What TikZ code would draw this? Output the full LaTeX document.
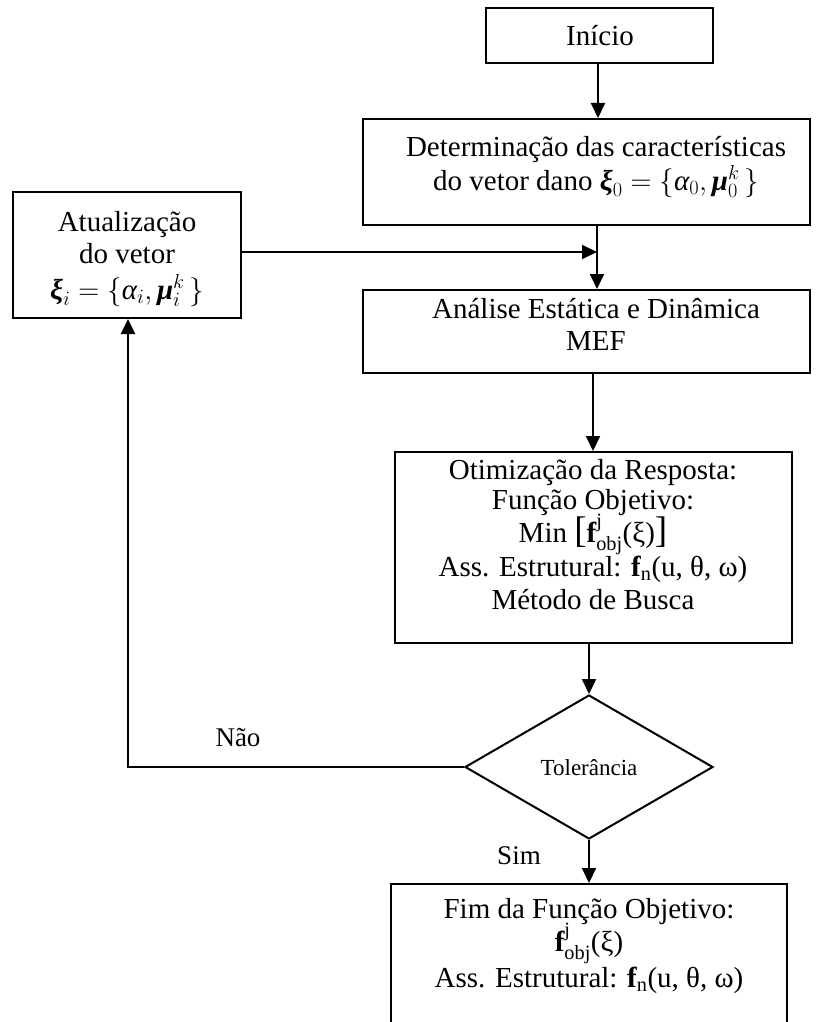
\RequirePackage{fix-cm}
\documentclass[tikz,border=0pt]{standalone}
\usepackage{amsmath}
\usepackage{fontspec}
\setmainfont{Liberation Serif}
\usetikzlibrary{arrows.meta,shapes.geometric}
\newcommand{\bxi}{\text{\bfseries\itshape ξ}}
\newcommand{\bmu}{\text{\bfseries\itshape μ}}
\newcommand{\ial}{\text{\itshape α}}
\newcommand{\bigbr}[1]{{\fontsize{37}{37}\selectfont #1}}
\tikzset{
  boxst/.style={draw=black,line width=2pt,rectangle,inner sep=0pt},
  txt/.style={inner sep=0pt,anchor=base,font=\fontsize{29}{33}\selectfont},
  smalltxt/.style={inner sep=0pt,anchor=base,font=\fontsize{23}{27}\selectfont},
  lbl/.style={inner sep=0pt,anchor=base,font=\fontsize{27}{31}\selectfont},
  arr/.style={line width=2pt,-{Triangle[length=15pt,width=14pt]}}
}
\begin{document}
\begin{tikzpicture}[x=1pt,y=-1pt]
\clip (0,0) rectangle (819,1022);
\fill[white] (0,0) rectangle (819,1022);
% boxes
\node[boxst,minimum width=227pt,minimum height=55pt] (inicio) at (599.5,35.5) {};
\node[boxst,minimum width=447pt,minimum height=106pt] (determ) at (586.5,172) {};
\node[boxst,minimum width=228pt,minimum height=126pt] (atual) at (127,255) {};
\node[boxst,minimum width=447pt,minimum height=83pt] (analise) at (586.5,331.5) {};
\node[boxst,minimum width=397pt,minimum height=191pt] (otim) at (593.5,547.5) {};
\node[draw=black,line width=2pt,diamond,aspect=1.72,minimum width=248pt,minimum height=144pt,inner sep=0pt] (dia) at (589,767) {};
\node[boxst,minimum width=396pt,minimum height=156pt] (fim) at (589,962) {};
% texts
\node[txt] (t1) at (600,46) {Início};
\node[txt] (t2a) at (596,157) {Determinação das características};
\node[txt] (t2b) at (596,190) {do vetor dano $\bxi_0=\{\ial_0,\bmu_0^k\,\}$};
\node[txt] (t3a) at (127,231) {Atualização};
\node[txt] (t3b) at (127,263) {do vetor};
\node[txt] (t3c) at (127,299) {$\bxi_i=\{\ial_i,\bmu_i^k\,\}$};
\node[txt] (t4a) at (596,318) {Análise Estática e Dinâmica};
\node[txt] (t4b) at (596,350) {MEF};
\node[txt] (t5a) at (593,479) {Otimização da Resposta:};
\node[txt] (t5b) at (593,509) {Função Objetivo:};
\node[txt] (t5c) at (593,542) {Min \bigbr{[}$\mathbf{f}^{\mathrm{j}}_{\mathrm{obj}}$(ξ)\bigbr{]}};
\node[txt] (t5d) at (593,576) {Ass. Estrutural: $\mathbf{f}_{\mathrm{n}}$(u, θ, ω)};
\node[txt] (t5e) at (593,609) {Método de Busca};
\node[smalltxt] (t6) at (589,775) {Tolerância};
\node[txt] (t7a) at (589,918) {Fim da Função Objetivo:};
\node[txt] (t7b) at (589,951) {$\mathbf{f}^{\mathrm{j}}_{\mathrm{obj}}$(ξ)};
\node[txt] (t7c) at (589,987) {Ass. Estrutural: $\mathbf{f}_{\mathrm{n}}$(u, θ, ω)};
\node[lbl] (nao) at (238,746) {Não};
\node[lbl] (sim) at (519,864) {Sim};
% connectors
\coordinate (j) at (597,252);
\coordinate (c) at (128,767);
\draw[arr] (inicio.south -| 598,0) -- (determ.north -| 598,0);
\draw[arr] (atual.east |- j) -- (j);
\draw[arr] (determ.south -| j) -- (analise.north -| j);
\draw[arr] (analise.south -| 593,0) -- (otim.north -| 593,0);
\draw[arr] (otim.south -| dia.north) -- (dia.north);
\draw[arr] (dia.south) -- (fim.north -| dia.south);
\draw[arr] (dia.west) -- (c) -- (atual.south -| c);
\end{tikzpicture}
\end{document}
